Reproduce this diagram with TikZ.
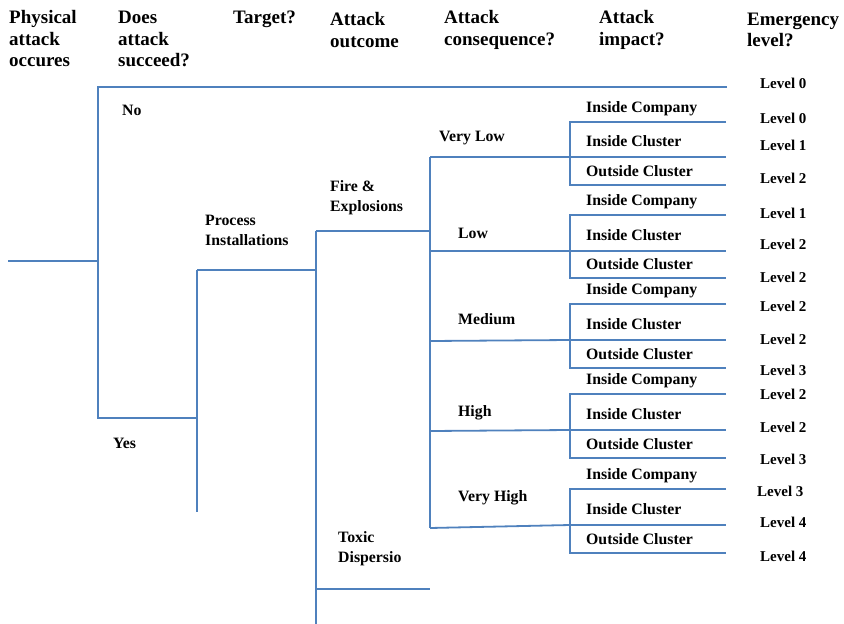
\documentclass[tikz,border=0pt]{standalone}
\usepackage{fontspec}
\setmainfont{Liberation Serif}
\usepackage{xcolor}
\usetikzlibrary{positioning}
\definecolor{treeblue}{HTML}{4F81BD}

\begin{document}
\begin{tikzpicture}[
  x=1pt, y=-1pt,
  branch/.style={draw=treeblue, line width=1.8pt},
  head/.style={anchor=west, inner sep=0, align=left, font=\fontsize{19}{21.5}\selectfont\bfseries},
  lbl/.style={anchor=west, inner sep=0, align=left, font=\fontsize{15.8}{20}\selectfont\bfseries},
  lvl/.style={anchor=west, inner sep=0, font=\fontsize{15}{18}\selectfont\bfseries}
]
\useasboundingbox (0,0) rectangle (844,624);

\node[head] (hphys) at (9,39) {Physical\\attack\\occures};
\node[head] (hsucc) at (118,39) {Does\\attack\\succeed?};
\node[head] (htarget) at (233,19) {Target?};
\node[head] (houtcome) at (330,30) {Attack\\outcome};
\node[head] (hconseq) at (444,30) {Attack\\consequence?};
\node[head] (himpact) at (599,30) {Attack\\impact?};
\node[head] (hlevel) at (747,30) {Emergency\\level?};

\coordinate (root) at (8,261);
\coordinate (attack) at (98,261);
\coordinate (no) at (98,87);
\coordinate (noend) at (727,87);
\coordinate (yes) at (98,418);
\coordinate (target) at (197,418);
\coordinate (tgttop) at (197,270);
\coordinate (tgtlow) at (197,512);
\coordinate (proc) at (316,270);
\coordinate (fire) at (316,231);
\coordinate (outlow) at (316,624);
\coordinate (fireend) at (430,231);
\coordinate (toxic) at (316,589);
\coordinate (toxicend) at (430,589);
\coordinate (cqtop) at (430,157);
\coordinate (cqlow) at (430,528);

\draw[branch] (root) -- (attack);
\draw[branch] (noend) -- (no) -- (yes) -- (target);
\draw[branch] (tgttop) -- (tgtlow);
\draw[branch] (tgttop) -- (proc);
\draw[branch] (fire) -- (outlow);
\draw[branch] (fire) -- (fireend);
\draw[branch] (toxic) -- (toxicend);
\draw[branch] (cqtop) -- (cqlow);

\node[lbl] (nolbl) at (122,110) {No};
\node[lbl] (yeslbl) at (113,443) {Yes};
\node[lbl] (proclbl) at (205,230) {Process\\Installations};
\node[lbl] (firelbl) at (330,198) {Fire \&\\Explosions};
\node[lbl] (toxiclbl) at (338,549) {Toxic\\Dispersio};

\foreach \c/\ys/\yt/\ym/\yb/\lx/\ly/\t in {
  vlow/157/122/157/185/439/138/Very Low,
  low/251/215/251/278/458/233/Low,
  med/341/304/340/368/458/319/Medium,
  high/431/394/430/458/458/413/High,
  vhigh/528/489/525/553/458/498/Very High}{
  \coordinate (\c) at (430,\ys);
  \coordinate (\c-top) at (570,\yt);
  \coordinate (\c-mid) at (570,\ym);
  \coordinate (\c-bot) at (570,\yb);
  \coordinate (\c-topend) at (726,\yt);
  \coordinate (\c-midend) at (726,\ym);
  \coordinate (\c-botend) at (726,\yb);
  \draw[branch] (\c) -- (\c-mid);
  \draw[branch] (\c-topend) -- (\c-top) -- (\c-bot) -- (\c-botend);
  \draw[branch] (\c-mid) -- (\c-midend);
  \node[lbl] (\c-lbl) at (\lx,\ly) {\t};
  \node[lbl] (\c-comp) at (586,\yt-13.5) {Inside Company};
  \node[lbl] (\c-in) at (586,\ym-15.5) {Inside Cluster};
  \node[lbl] (\c-out) at (586,\yb-14) {Outside Cluster};
}

\foreach \i/\x/\y/\t in {0/760/83/0, 1/760/118/0, 2/760/145/1, 3/760/178/2,
  4/760/213/1, 5/760/244/2, 6/760/277/2, 7/760/306/2, 8/760/339/2, 9/760/370/3,
  10/760/394/2, 11/760/427/2, 12/760/459/3, 13/757/491/3, 14/760/522/4, 15/760/556/4}
  \node[lvl] (lvl\i) at (\x,\y) {Level \t};
\end{tikzpicture}
\end{document}
